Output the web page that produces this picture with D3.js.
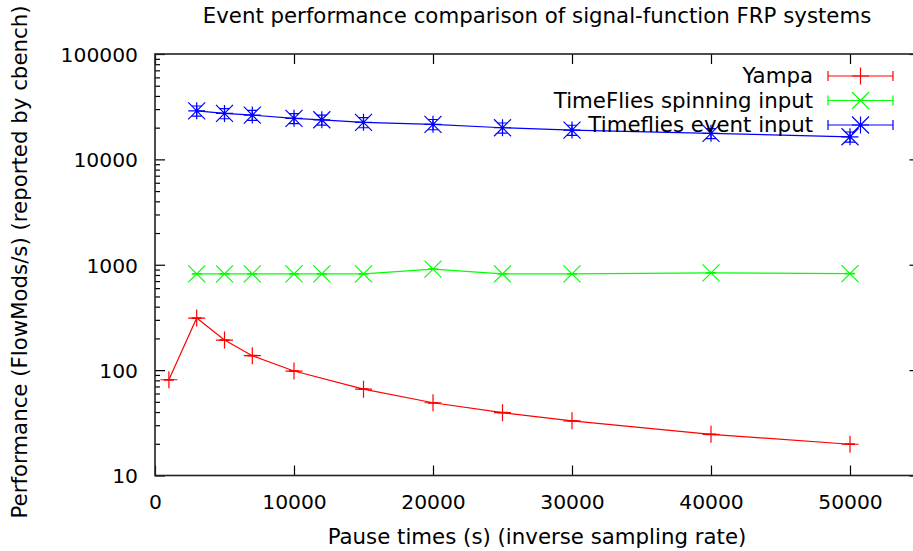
<!DOCTYPE html>
<html>
<head>
<meta charset="utf-8">
<script src="https://cdn.jsdelivr.net/npm/d3@7"></script>
<style>
  body { margin: 0; background: #fff; }
  text { font-family: "DejaVu Sans", sans-serif; font-size: 21.3px; fill: #000; }
</style>
</head>
<body>
<div class="canvas"></div>
<script>
// pause times (x) and FlowMods/s (y)
const yampaX = [1000, 3000, 5000, 7000, 10000, 15000, 20000, 25000, 30000, 40000, 50000];
const yampaY = [81, 312, 193, 137, 98, 66, 49, 39.5, 33, 24.6, 19.8];
const yampaErr = [0.5, 2, 1.2, 0.9, 0.6, 0.4, 0.3, 0.25, 0.2, 0.15, 0.12];

const spinX = [3000, 5000, 7000, 10000, 12000, 15000, 20000, 25000, 30000, 40000, 50000];
const spinY = [818, 818, 818, 818, 818, 818, 910, 820, 820, 838, 825];
const spinErr = [4, 4, 4, 4, 4, 4, 5, 4, 4, 4, 4];

const eventX = [3000, 5000, 7000, 10000, 12000, 15000, 20000, 25000, 30000, 40000, 50000];
const eventY = [28900, 27300, 26300, 24500, 23750, 22450, 21500, 19950, 18970, 17650, 16380];
const eventErr = [3200, 3000, 2900, 2700, 2600, 2500, 2400, 2200, 2100, 1900, 1800];

const seriesNames = ['Yampa', 'TimeFlies spinning input', 'Timeflies event input'];
const xTicks = [0, 10000, 20000, 30000, 40000, 50000];
const yTicks = [10, 100, 1000, 10000, 100000];

const width = 913;
const height = 551;
const margin = {top: 54, right: -6.5, bottom: 75.5, left: 155};

const svg = d3.select('.canvas')
  .append('svg')
  .attr('width', width)
  .attr('height', height);

const x = d3.scaleLinear()
  .domain([0, 55000])
  .range([margin.left, width - margin.right]);

const y = d3.scaleLog()
  .domain([10, 100000])
  .range([height - margin.bottom, margin.top]);

const minorY = [];
yTicks.slice(0, -1).forEach(d => {
  for (let k = 2; k < 10; k++) minorY.push(d * k);
});

// axes, gnuplot style: inward ticks, mirrored
const gBottom = svg.append('g').attr('transform', `translate(0, ${y.range()[0]})`);
gBottom.call(d3.axisBottom(x).tickValues(xTicks).tickSize(-10).tickPadding(16).tickFormat(d => d));
const gTop = svg.append('g').attr('transform', `translate(0, ${y.range()[1]})`);
gTop.call(d3.axisTop(x).tickValues(xTicks).tickSize(-10).tickFormat(''));

const gLeft = svg.append('g').attr('transform', `translate(${x.range()[0]}, 0)`);
gLeft.call(d3.axisLeft(y).tickValues(yTicks).tickSize(-10).tickPadding(17).tickFormat(d => d));
const gLeftMinor = svg.append('g').attr('transform', `translate(${x.range()[0]}, 0)`);
gLeftMinor.call(d3.axisLeft(y).tickValues(minorY).tickSize(-5).tickFormat(''));

const gRight = svg.append('g').attr('transform', `translate(${x.range()[1]}, 0)`);
gRight.call(d3.axisRight(y).tickValues(yTicks).tickSize(-10).tickFormat(''));
const gRightMinor = svg.append('g').attr('transform', `translate(${x.range()[1]}, 0)`);
gRightMinor.call(d3.axisRight(y).tickValues(minorY).tickSize(-5).tickFormat(''));

svg.selectAll('.domain').remove();
svg.selectAll('.tick line').attr('stroke', '#000').attr('stroke-width', 1.2);
svg.selectAll('.tick text')
  .style('font-family', '"DejaVu Sans", sans-serif')
  .style('font-size', '20.3px')
  .attr('fill', '#000');
gBottom.selectAll('text').attr('dy', null).attr('y', 33);
gLeft.selectAll('text').attr('dy', '0.36em');

svg.append('rect')
  .attr('x', x.range()[0])
  .attr('y', y.range()[1])
  .attr('width', x.range()[1] - x.range()[0])
  .attr('height', y.range()[0] - y.range()[1])
  .attr('fill', 'none')
  .attr('stroke', '#222')
  .attr('stroke-width', 1.6);

// titles
svg.append('text')
  .attr('x', 537)
  .attr('y', 23)
  .attr('text-anchor', 'middle')
  .text('Event performance comparison of signal-function FRP systems');

svg.append('text')
  .attr('x', 537)
  .attr('y', 544)
  .attr('text-anchor', 'middle')
  .text('Pause times (s) (inverse sampling rate)');

svg.append('text')
  .attr('transform', 'translate(27, 262) rotate(-90)')
  .attr('text-anchor', 'middle')
  .text('Performance (FlowMods/s) (reported by cbench)');

// point shapes
const S = 8.5;
const shapes = [
  `M${-S},0H${S}M0,${-S}V${S}`,
  `M${-S},${-S}L${S},${S}M${-S},${S}L${S},${-S}`,
  `M${-S},0H${S}M0,${-S}V${S}M${-S},${-S}L${S},${S}M${-S},${S}L${S},${-S}`
];
const colors = ['#ff0000', '#00ff00', '#0000ff'];

const series = [
  {xs: yampaX, ys: yampaY, es: yampaErr},
  {xs: spinX, ys: spinY, es: spinErr},
  {xs: eventX, ys: eventY, es: eventErr}
];

const line = d3.line().x(d => x(d.x)).y(d => y(d.y));
const capW = 5;

series.forEach((s, i) => {
  const pts = s.xs.map((v, j) => ({x: v, y: s.ys[j], e: s.es[j]}));
  const g = svg.append('g')
    .attr('stroke', colors[i])
    .attr('stroke-width', 1.2)
    .attr('fill', 'none');

  g.append('path').attr('d', line(pts));

  g.selectAll('.err')
    .data(pts)
    .enter()
    .append('path')
    .attr('d', d => {
      const cx = x(d.x), lo = y(d.y - d.e), hi = y(d.y + d.e);
      return `M${cx},${lo}V${hi}M${cx - capW},${lo}H${cx + capW}M${cx - capW},${hi}H${cx + capW}`;
    });

  g.selectAll('.pt')
    .data(pts)
    .enter()
    .append('path')
    .attr('transform', d => `translate(${x(d.x)}, ${y(d.y)})`)
    .attr('d', shapes[i]);
});

// legend
const legendY = [76, 100.5, 125];
seriesNames.forEach((name, i) => {
  const ly = legendY[i];
  svg.append('text')
    .attr('x', 813)
    .attr('y', ly + 7)
    .attr('text-anchor', 'end')
    .text(name);
  const g = svg.append('g')
    .attr('stroke', colors[i])
    .attr('stroke-width', 1.2)
    .attr('fill', 'none');
  g.append('path').attr('d', `M828,${ly}H893M828,${ly - 5}V${ly + 5}M893,${ly - 5}V${ly + 5}`);
  g.append('path').attr('transform', `translate(860.5, ${ly})`).attr('d', shapes[i]);
});
</script>
</body>
</html>
